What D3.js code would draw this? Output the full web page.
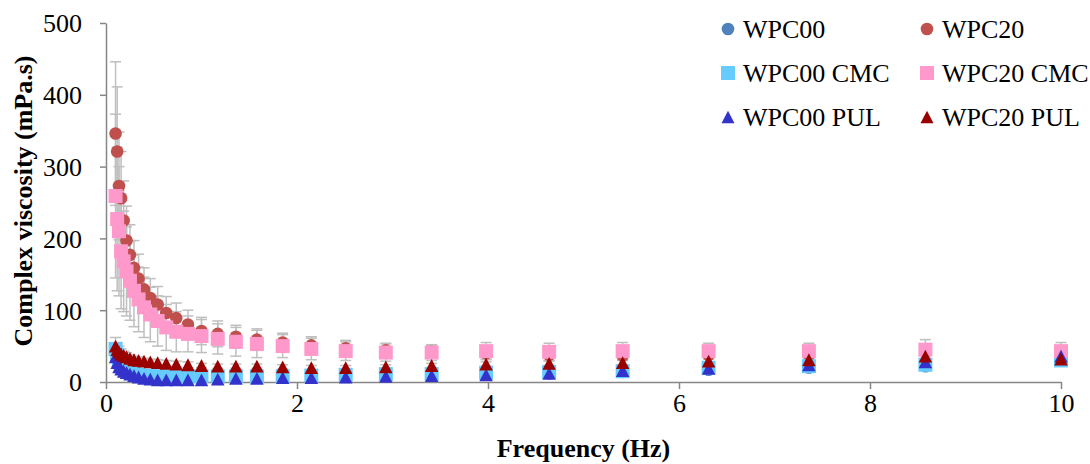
<!DOCTYPE html>
<html>
<head>
<meta charset="utf-8">
<script src="https://cdn.jsdelivr.net/npm/d3@7/dist/d3.min.js"></script>
<style>
  body { margin: 0; background: #fff; }
  svg { display: block; font-family: "Liberation Serif", "Times New Roman", serif; }
</style>
</head>
<body>
<svg></svg>
<script>
// frequencies (Hz)
let freq = [0.1, 0.117, 0.136, 0.158, 0.185, 0.215, 0.251, 0.293, 0.341, 0.398, 0.464, 0.541, 0.631, 0.736, 0.858, 1,
  1.17, 1.36, 1.58, 1.85, 2.15, 2.51, 2.93, 3.41, 3.98, 4.64, 5.41, 6.31, 7.36, 8.58, 10]

// complex viscosity (mPa.s) for each sample
let wpc00 = [40, 33, 27, 22, 18, 15, 12, 10, 8, 7, 6, 6, 5, 5, 5, 5, 5, 6, 6, 6, 7, 8, 9, 10, 11, 12, 14, 17, 20, 22, 30]
let wpc20 = [346, 321, 273, 256, 225, 197, 177, 159, 144, 129, 117, 108, 96, 89, 80, 71, 67, 63, 59, 55, 51, 47, 44, 42, 40, 38, 37, 38, 38, 42, 40]
let wpc00cmc = [46, 38, 30, 24, 20, 17, 14, 12, 10, 9, 8, 8, 8, 8, 8, 8, 8, 8, 8, 8, 9, 10, 11, 11, 13, 14, 15, 20, 22, 24, 30]
let wpc20cmc = [259, 227, 210, 182, 168, 154, 141, 127, 115, 104, 94, 85, 76, 70, 67, 64, 60, 56, 53, 50, 46, 43, 41, 41, 43, 42, 43, 43, 43, 45, 43]
let wpc00pul = [35, 27, 21, 18, 15, 13, 11, 9, 7, 5, 4, 3, 3, 3, 3, 3, 4, 5, 5, 6, 6, 7, 8, 9, 10, 12, 16, 19, 24, 28, 36]
let wpc20pul = [50, 45, 42, 39, 37, 35, 33, 31, 30, 29, 28, 27, 26, 25, 24, 23, 22, 22, 22, 21, 20, 20, 21, 23, 25, 26, 27, 29, 31, 36, 32]

// standard deviations
let err00 = [7, 6, 5, 4, 4, 3, 3, 3, 2, 2, 2, 2, 2, 2, 2, 2, 2, 2, 2, 2, 2, 2, 2, 2, 2, 2, 2, 2, 2, 2, 3]
let err20 = [100, 90, 75, 65, 55, 48, 42, 38, 34, 30, 27, 25, 23, 21, 20, 19, 18, 16, 15, 13, 12, 11, 10, 9, 8, 8, 7, 6, 5, 5, 4]
let err00cmc = [8, 6, 5, 4, 4, 3, 3, 3, 2, 2, 2, 2, 2, 2, 2, 2, 2, 2, 2, 2, 2, 2, 2, 2, 2, 2, 2, 2, 2, 2, 3]
let err20cmc = [114, 100, 90, 80, 70, 62, 55, 50, 45, 42, 38, 35, 32, 28, 25, 23, 21, 20, 19, 16, 15, 13, 12, 11, 12, 12, 12, 11, 11, 14, 12]
let err00pul = [6, 5, 4, 4, 3, 3, 3, 2, 2, 2, 2, 2, 2, 2, 2, 2, 2, 2, 2, 2, 2, 2, 2, 2, 2, 2, 2, 2, 2, 2, 3]
let err20pul = [12, 10, 8, 7, 6, 6, 5, 5, 5, 4, 4, 4, 4, 4, 4, 3, 3, 3, 3, 3, 3, 3, 3, 3, 3, 3, 3, 3, 3, 3, 3]

let names = ["WPC00", "WPC20", "WPC00 CMC", "WPC20 CMC", "WPC00 PUL", "WPC20 PUL"]
let colors = ["#4F81BD", "#C0504D", "#66CCFF", "#FF99CC", "#3333CC", "#990000"]
let shapes = ["circle", "circle", "square", "square", "triangle", "triangle"]
let values = [wpc00, wpc20, wpc00cmc, wpc20cmc, wpc00pul, wpc20pul]
let errors = [err00, err20, err00cmc, err20cmc, err00pul, err20pul]

let xTicks = [0, 2, 4, 6, 8, 10]
let yTicks = [0, 100, 200, 300, 400, 500]

//canvas size
let width = 1090
let height = 464
let margin = {left: 106, right: 29, top: 23, bottom: 82}

let svg = d3.select("svg").attr("width", width).attr("height", height)

let xScale = d3.scaleLinear().domain([0, 10]).range([margin.left, width - margin.right])
let yScale = d3.scaleLinear().domain([0, 500]).range([height - margin.bottom, margin.top])

// triangle centred on its bounding box
let triangleType = {
  draw: (ctx, size) => {
    let w = Math.sqrt(size)
    let h = w * 0.95
    ctx.moveTo(0, -h / 2)
    ctx.lineTo(w / 2, h / 2)
    ctx.lineTo(-w / 2, h / 2)
    ctx.closePath()
  }
}
let symbolFor = (shape, tri) => {
  if (shape == "circle") return d3.symbol().type(d3.symbolCircle).size(Math.PI * 6.3 * 6.3)
  if (shape == "square") return d3.symbol().type(d3.symbolSquare).size(14 * 14)
  return d3.symbol().type(triangleType).size(tri * tri)
}

// axes
let axisColor = "#868686"
let xAxis = d3.axisBottom(xScale).tickValues(xTicks).tickSize(7).tickSizeOuter(0)
let yAxis = d3.axisLeft(yScale).tickValues(yTicks).tickSize(6).tickSizeOuter(0)

let gx = svg.append("g")
  .attr("transform", "translate(0," + (height - margin.bottom) + ")")
  .call(xAxis)
let gy = svg.append("g")
  .attr("transform", "translate(" + margin.left + ",0)")
  .call(yAxis)

for (let g of [gx, gy]) {
  g.select(".domain").attr("stroke", axisColor).attr("stroke-width", 1.5)
  g.selectAll(".tick line").attr("stroke", axisColor).attr("stroke-width", 1.5)
  g.selectAll(".tick text").attr("fill", "#000").style("font-size", "26px").style("font-family", "Liberation Serif")
}
gx.selectAll(".tick text").attr("y", 7).attr("dy", "0.88em")
gy.selectAll(".tick text").attr("x", -24).attr("dy", "0.34em")

// error bars first
let errG = svg.append("g")
values.forEach((vals, s) => {
  vals.forEach((v, i) => {
    let e = errors[s][i]
    let x = xScale(freq[i])
    let top = yScale(Math.min(v + e, 500))
    let bot = yScale(Math.max(v - e, 0))
    errG.append("line").attr("x1", x).attr("x2", x).attr("y1", top).attr("y2", bot)
      .attr("stroke", "#BFBFBF").attr("stroke-width", 1.5)
    errG.append("line").attr("x1", x - 5.5).attr("x2", x + 5.5).attr("y1", top).attr("y2", top)
      .attr("stroke", "#BFBFBF").attr("stroke-width", 1.5)
    if (v - e > 0) {
      errG.append("line").attr("x1", x - 5.5).attr("x2", x + 5.5).attr("y1", bot).attr("y2", bot)
        .attr("stroke", "#BFBFBF").attr("stroke-width", 1.5)
    }
  })
})

// markers
values.forEach((vals, s) => {
  svg.append("g").selectAll("path")
    .data(vals)
    .enter()
    .append("path")
    .attr("d", symbolFor(shapes[s], 13.5))
    .attr("fill", colors[s])
    .attr("transform", (d, i) => "translate(" + xScale(freq[i]) + "," + yScale(d) + ")")
})

// legend
let legend = svg.append("g")
let colX = [728, 927]
let rowY = [29, 73, 117]
names.forEach((n, s) => {
  let cx = colX[s % 2]
  let cy = rowY[Math.floor(s / 2)]
  legend.append("path").attr("d", symbolFor(shapes[s], 13)).attr("fill", colors[s])
    .attr("transform", "translate(" + cx + "," + cy + ")")
  legend.append("text").attr("x", cx + 15).attr("y", cy + 8.7)
    .style("font-size", "26px").text(n)
})

// axis titles
svg.append("text")
  .attr("x", (margin.left + width - margin.right) / 2)
  .attr("y", 457)
  .attr("text-anchor", "middle")
  .style("font-size", "26px").style("font-weight", "bold")
  .text("Frequency (Hz)")

svg.append("text")
  .attr("transform", "translate(32," + 201 + ") rotate(-90)")
  .attr("text-anchor", "middle")
  .style("font-size", "26px").style("font-weight", "bold")
  .text("Complex viscosity (mPa.s)")
</script>
</body>
</html>
